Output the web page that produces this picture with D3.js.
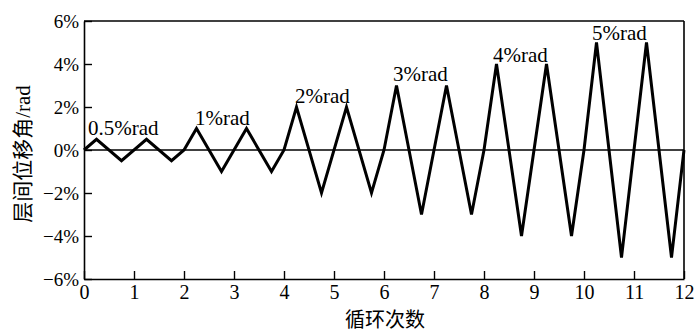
<!DOCTYPE html>
<html>
<head>
<meta charset="utf-8">
<script src="https://cdn.jsdelivr.net/npm/d3@7"></script>
<style>
  body { margin: 0; background: #fff; }
  text { font-family: "Liberation Serif", "Times New Roman", serif; fill: #000; }
</style>
</head>
<body>
<div id="chart"></div>
<script>
// loading protocol: cycle number vs storey drift (%)
var cycles = [0, 0.25, 0.75, 1.25, 1.75, 2, 2.25, 2.75, 3.25, 3.75, 4, 4.25, 4.75, 5.25, 5.75, 6,
              6.25, 6.75, 7.25, 7.75, 8, 8.25, 8.75, 9.25, 9.75, 10, 10.25, 10.75, 11.25, 11.75, 12];
var drift = [0, 0.5, -0.5, 0.5, -0.5, 0, 1, -1, 1, -1, 0, 2, -2, 2, -2, 0,
             3, -3, 3, -3, 0, 4, -4, 4, -4, 0, 5, -5, 5, -5, 0];

var levelText = ['0.5%rad', '1%rad', '2%rad', '3%rad', '4%rad', '5%rad'];
var levelCycle = [0.08, 2.22, 4.22, 6.18, 8.18, 10.16];
var levelDrift = [0.7, 1.16, 2.19, 3.21, 4.09, 5.12];

var xTicks = [0, 1, 2, 3, 4, 5, 6, 7, 8, 9, 10, 11, 12];
var yTicks = [-6, -4, -2, 0, 2, 4, 6];

var W = 700, H = 334;
var margin = { top: 21, right: 16, bottom: 55, left: 84 };
var w = W - margin.left - margin.right, h = H - margin.top - margin.bottom;
var serif = '"Liberation Serif", "Times New Roman", serif';

var svg = d3.select('#chart').append('svg').attr('width', W).attr('height', H);
var g = svg.append('g').attr('transform', 'translate(' + margin.left + ',' + margin.top + ')');

var x = d3.scaleLinear().domain([0, 12]).range([0, w]);
var y = d3.scaleLinear().domain([-6, 6]).range([h, 0]);

/* --------- AXES ---------*/
var xAxis = g.append('g').attr('transform', 'translate(0,' + h + ')')
    .call(d3.axisBottom(x).tickValues(xTicks).tickSizeInner(-8).tickSizeOuter(0));
var yAxis = g.append('g')
    .call(d3.axisLeft(y).tickValues(yTicks).tickSizeInner(-8).tickSizeOuter(0).tickPadding(5)
        .tickFormat(function (d) { return (d < 0 ? '\u2212' + (-d) : d) + '%'; }));

[xAxis, yAxis].forEach(function (a) {
    a.attr('font-family', null);
    a.select('.domain').attr('stroke', '#000').attr('stroke-width', 1.6);
    a.selectAll('.tick line').attr('stroke', '#000').attr('stroke-width', 1.4);
    a.selectAll('.tick text').style('font-family', serif);
});
xAxis.selectAll('.tick text').attr('font-size', 20).attr('y', 6).attr('dy', '0.71em');
yAxis.selectAll('.tick text').attr('font-size', 19);

// frame top + right
g.append('line').attr('x1', 0).attr('x2', w).attr('y1', 0).attr('y2', 0)
    .attr('stroke', '#000').attr('stroke-width', 1.6);
g.append('line').attr('x1', w).attr('x2', w).attr('y1', 0).attr('y2', h)
    .attr('stroke', '#000').attr('stroke-width', 1.6);

// zero line
g.append('line').attr('x1', 0).attr('x2', w).attr('y1', y(0)).attr('y2', y(0))
    .attr('stroke', '#000').attr('stroke-width', 1.3);

/* --------- LOADING PATH ---------*/
var pts = cycles.map(function (c, i) { return [c, drift[i]]; });
g.append('path')
    .datum(pts)
    .attr('fill', 'none')
    .attr('stroke', '#000')
    .attr('stroke-width', 3)
    .attr('stroke-linejoin', 'miter')
    .attr('d', d3.line().x(function (d) { return x(d[0]); }).y(function (d) { return y(d[1]); }));

/* --------- LEVEL LABELS ---------*/
g.selectAll('text.level').data(levelText).enter()
    .append('text')
    .attr('class', 'level')
    .attr('x', function (d, i) { return x(levelCycle[i]); })
    .attr('y', function (d, i) { return y(levelDrift[i]); })
    .attr('font-size', 21)
    .style('font-family', serif)
    .text(function (d) { return d; });

/* --------- AXIS TITLES ---------*/
svg.append('text')
    .attr('x', margin.left + w / 2 + 1)
    .attr('y', 327)
    .attr('text-anchor', 'middle')
    .attr('font-size', 20)
    .style('font-family', '"Noto Sans CJK SC", serif')
    .text('循环次数');

var yt = svg.append('text')
    .attr('transform', 'translate(30,154) rotate(-90)')
    .attr('text-anchor', 'middle')
    .attr('font-size', 21)
    .style('font-family', '"Noto Sans CJK SC", serif');
yt.append('tspan').text('层间位移角');
yt.append('tspan').style('font-family', serif).text('/rad');
</script>
</body>
</html>
